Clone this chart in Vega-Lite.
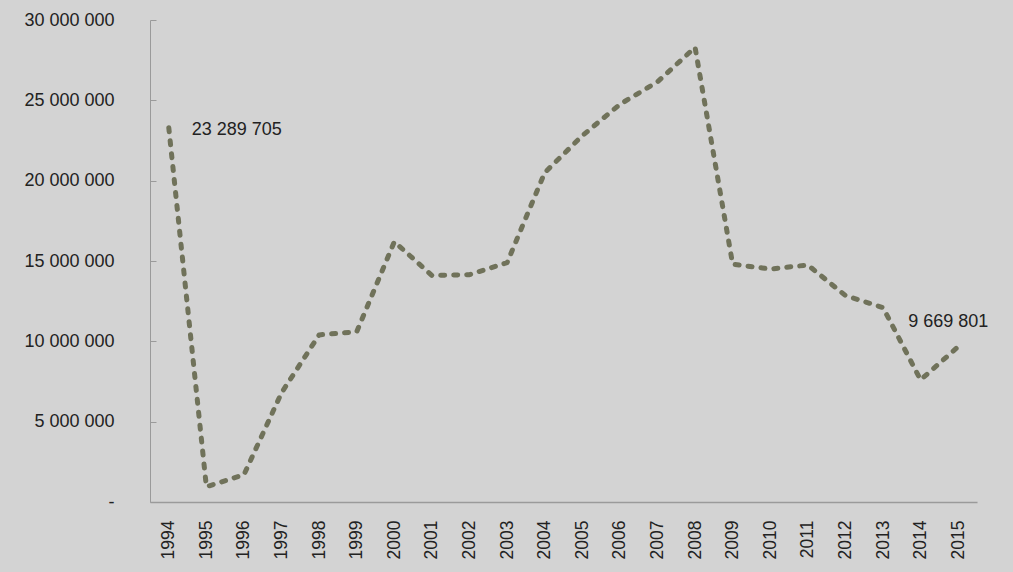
{
  "$schema": "https://vega.github.io/schema/vega-lite/v6.json",
  "width": 827,
  "height": 482,
  "autosize": {"type": "none"},
  "padding": {"left": 150, "top": 20, "right": 36, "bottom": 70},
  "background": "#d3d3d3",
  "config": {
    "view": {"stroke": null},
    "font": "Liberation Sans",
    "locale": {"number": {"decimal": ",", "thousands": " ", "grouping": [3], "currency": ["", ""]}},
    "axis": {"labelFont": "Liberation Sans", "labelColor": "#222222", "domainColor": "#9a9a9a", "tickColor": "#9a9a9a", "grid": false}
  },
  "data": {
    "values": [
      {"year": "1994", "value": 23289705},
      {"year": "1995", "value": 950000},
      {"year": "1996", "value": 1700000},
      {"year": "1997", "value": 6800000},
      {"year": "1998", "value": 10400000},
      {"year": "1999", "value": 10600000},
      {"year": "2000", "value": 16200000},
      {"year": "2001", "value": 14100000},
      {"year": "2002", "value": 14150000},
      {"year": "2003", "value": 14900000},
      {"year": "2004", "value": 20500000},
      {"year": "2005", "value": 22800000},
      {"year": "2006", "value": 24750000},
      {"year": "2007", "value": 26150000},
      {"year": "2008", "value": 28300000},
      {"year": "2009", "value": 14800000},
      {"year": "2010", "value": 14500000},
      {"year": "2011", "value": 14750000},
      {"year": "2012", "value": 12850000},
      {"year": "2013", "value": 12100000},
      {"year": "2014", "value": 7600000},
      {"year": "2015", "value": 9669801}
    ]
  },
  "encoding": {
    "x": {
      "field": "year", "type": "ordinal",
      "scale": {"type": "point", "padding": 0.5},
      "axis": {"title": null, "labelAngle": -90, "labelFontSize": 17.5, "ticks": false, "labelPadding": 18, "domainWidth": 1.5}
    },
    "y": {
      "field": "value", "type": "quantitative",
      "scale": {"domain": [0, 30000000], "nice": false},
      "axis": {
        "title": null, "values": [0, 5000000, 10000000, 15000000, 20000000, 25000000, 30000000],
        "labelOverlap": false,
        "labelFontSize": 18, "tickSize": -6, "labelPadding": 42, "domainWidth": 1,
        "labelExpr": "datum.value == 0 ? '-' : replace(format(datum.value, ',d'), /,/g, ' ')"
      }
    }
  },
  "layer": [
    {
      "mark": {"type": "line", "color": "#70725a", "strokeWidth": 5, "strokeDash": [4, 9], "strokeCap": "round", "strokeJoin": "round"}
    },
    {
      "transform": [{"filter": "datum.year == '1994'"}],
      "mark": {"type": "text", "align": "left", "baseline": "middle", "dx": 23, "dy": 2, "fontSize": 18, "color": "#222222"},
      "encoding": {"text": {"field": "value", "type": "quantitative", "format": ",d"}}
    },
    {
      "transform": [{"filter": "datum.year == '2015'"}],
      "mark": {"type": "text", "align": "left", "baseline": "middle", "dx": -50, "dy": -25, "fontSize": 18, "color": "#222222"},
      "encoding": {"text": {"field": "value", "type": "quantitative", "format": ",d"}}
    }
  ]
}
